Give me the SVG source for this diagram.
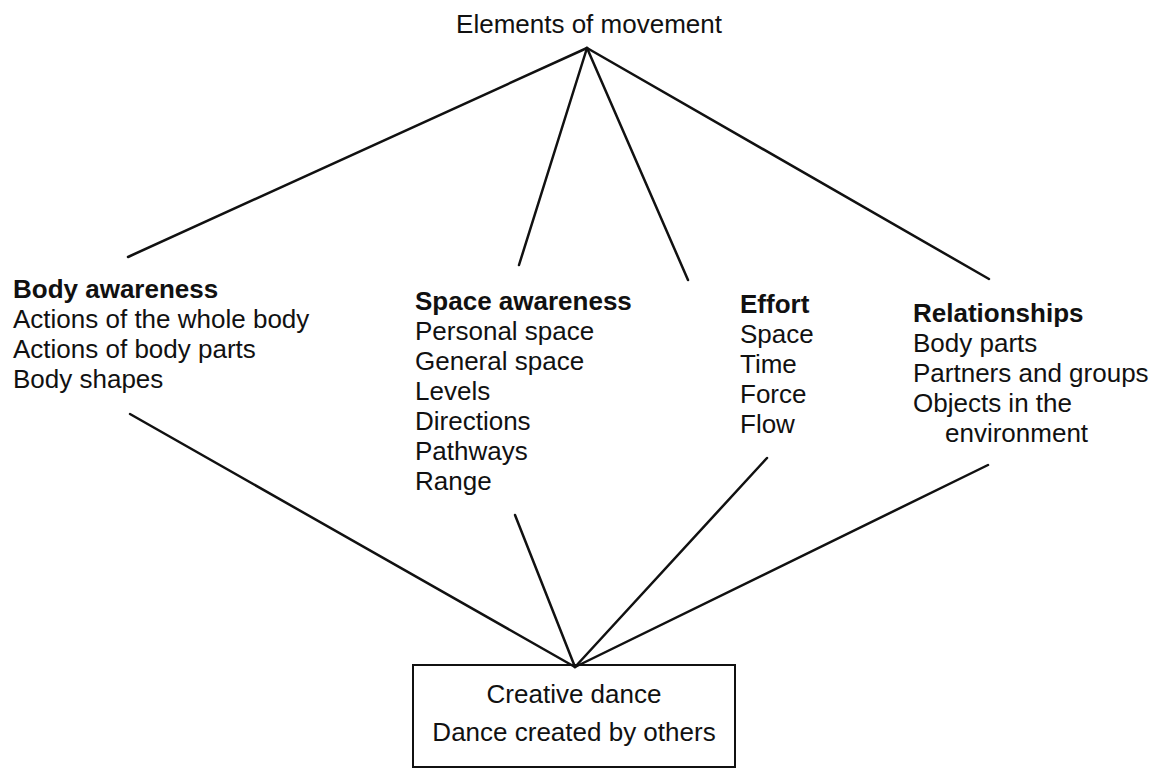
<svg xmlns="http://www.w3.org/2000/svg" width="1151" height="769" viewBox="0 0 1151 769">
<style>
text{font-family:"Liberation Sans",Arial,sans-serif;font-size:26px;fill:#111}
.b{font-weight:bold}
.ln{stroke:#111;stroke-width:2.5;fill:none;stroke-linecap:round}
</style>
<rect width="1151" height="769" fill="#fff"/>
<g id="connectors" class="ln">
<line x1="587" y1="48" x2="128" y2="257"/>
<line x1="587" y1="48" x2="519" y2="265"/>
<line x1="587" y1="48" x2="688" y2="280"/>
<line x1="587" y1="48" x2="989" y2="279"/>
<line x1="130" y1="414" x2="575" y2="667"/>
<line x1="515" y1="515" x2="575" y2="667"/>
<line x1="767" y1="458" x2="575" y2="667"/>
<line x1="988" y1="465" x2="575" y2="667"/>
</g>
<g id="root"><text x="589" y="33" text-anchor="middle">Elements of movement</text></g>
<g id="body">
<text x="13" y="298" class="b">Body awareness</text>
<text x="13" y="328">Actions of the whole body</text>
<text x="13" y="358">Actions of body parts</text>
<text x="13" y="388">Body shapes</text>
</g>
<g id="space">
<text x="415" y="310" class="b">Space awareness</text>
<text x="415" y="340">Personal space</text>
<text x="415" y="370">General space</text>
<text x="415" y="400">Levels</text>
<text x="415" y="430">Directions</text>
<text x="415" y="460">Pathways</text>
<text x="415" y="490">Range</text>
</g>
<g id="effort">
<text x="740" y="313" class="b">Effort</text>
<text x="740" y="343">Space</text>
<text x="740" y="373">Time</text>
<text x="740" y="403">Force</text>
<text x="740" y="433">Flow</text>
</g>
<g id="relationships">
<text x="913" y="322" class="b">Relationships</text>
<text x="913" y="352">Body parts</text>
<text x="913" y="382">Partners and groups</text>
<text x="913" y="412">Objects in the</text>
<text x="945" y="442">environment</text>
</g>
<g id="output">
<rect x="413" y="665" width="322" height="102" fill="none" stroke="#111" stroke-width="2"/>
<text x="574" y="703" text-anchor="middle">Creative dance</text>
<text x="574" y="741" text-anchor="middle">Dance created by others</text>
</g>
</svg>
